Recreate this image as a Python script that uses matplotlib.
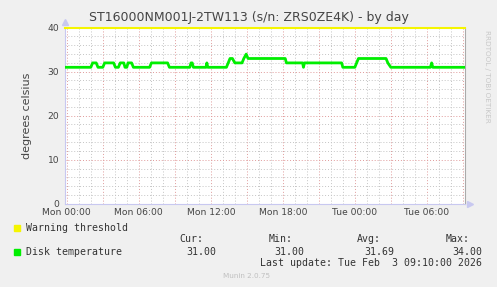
import matplotlib
matplotlib.use("Agg")
import matplotlib.pyplot as plt

# hours from Mon 00:00, disk temperature readings (vertices)
hours = [-0.15, 2.0, 2.15, 2.45, 2.6, 3.0, 3.15, 3.9, 4.05, 4.3, 4.45, 4.75, 4.85,
         5.0, 5.1, 5.4, 5.55, 6.9, 7.05, 8.4, 8.55, 10.25, 10.35, 10.45, 10.55,
         11.6, 11.67, 11.75, 13.3, 13.6, 13.8, 14.0, 14.6, 14.75, 14.95, 15.1,
         18.2, 18.3, 19.65, 19.72, 19.8, 22.9, 23.0, 24.0, 24.3, 26.6, 26.75,
         27.0, 30.3, 30.4, 30.5, 33.17]
temps = [31, 31, 32, 32, 31, 31, 32, 32, 31, 31, 32, 32, 31,
         31, 32, 32, 31, 31, 32, 32, 31, 31, 32, 32, 31,
         31, 32, 31, 31, 33, 33, 32, 32, 33, 34, 33,
         33, 32, 32, 31, 32, 32, 31, 31, 33, 33, 32,
         31, 31, 32, 31, 31]
warning = 40

tick_hours = [0, 6, 12, 18, 24, 30]
tick_labels = ['Mon 00:00', 'Mon 06:00', 'Mon 12:00', 'Mon 18:00', 'Tue 00:00', 'Tue 06:00']
ytick_vals = [0, 10, 20, 30, 40]

stats_hdr = ['Cur:', 'Min:', 'Avg:', 'Max:']
stats_val = ['31.00', '31.00', '31.69', '34.00']

W, H = 497, 287
fig = plt.figure(figsize=(W / 100, H / 100), dpi=100, facecolor='#f0f0f0')
ax = fig.add_axes([65 / W, 1 - 203.7 / H, 400 / W, 176 / H], facecolor='white')

xmin, xmax = -0.15, 33.18
ax.set_xlim(xmin, xmax)
ax.set_ylim(0, 40)

# grid: minor grey every hour / 2 degrees, major red every 3 hours / 10 degrees
for h in range(0, 34):
    col = '#e09a9a' if h % 3 == 0 else '#c4c4c4'
    ax.axvline(h, color=col, lw=0.7, ls=(0, (1, 2)), zorder=1)
for v in range(2, 40, 2):
    col = '#e09a9a' if v % 10 == 0 else '#c4c4c4'
    ax.axhline(v, color=col, lw=0.7, ls=(0, (1, 2)), zorder=1)

ax.axhline(warning, color='#f5f500', lw=1.5, zorder=3, clip_on=False)
ax.plot(hours, temps, color='#00ee00', lw=2, zorder=4)

ax.set_xticks(tick_hours)
ax.set_xticklabels(tick_labels)
ax.set_yticks(ytick_vals)
ax.tick_params(length=0, labelsize=6.6, colors='#444444')
ax.tick_params(axis='x', pad=3)
ax.tick_params(axis='y', pad=4)

ax.spines['top'].set_visible(False)
ax.spines['right'].set_color('#aaaaaa')
ax.spines['right'].set_linewidth(0.8)
for s in ['left', 'bottom']:
    ax.spines[s].set_color('#c8c8f0')
    ax.spines[s].set_linewidth(0.8)

# axis arrows
ax.plot([xmin], [41.3], marker='^', color='#c8c8f0', ms=4, clip_on=False)
ax.plot([xmax + 0.45], [0], marker='>', color='#c8c8f0', ms=4, clip_on=False)

ax.set_ylabel('degrees celsius', fontsize=8, color='#444444', labelpad=11)

fig.text(0.5, 1 - 18 / H, 'ST16000NM001J-2TW113 (s/n: ZRS0ZE4K) - by day',
         ha='center', va='center', fontsize=9, color='#444444')
fig.text(487 / W, 1 - 30 / H, 'RRDTOOL / TOBI OETIKER', rotation=270,
         ha='center', va='top', fontsize=5.2, color='#c8c8c8')

# legend
mono = 'DejaVu Sans Mono'
fs = 7.1
fig.patches.append(plt.Rectangle((14 / W, 1 - 230.5 / H), 5.5 / W, 5.5 / H,
                                 color='#f5f500', transform=fig.transFigure))
fig.text(26 / W, 1 - 227.7 / H, 'Warning threshold', family=mono, fontsize=fs,
         va='center', color='#333333')
hdr_right = [203.3, 292.7, 381, 470]
val_right = [216, 304.7, 394, 482.3]
for t, x in zip(stats_hdr, hdr_right):
    fig.text(x / W, 1 - 239.3 / H, t, family=mono, fontsize=fs, ha='right',
             va='center', color='#333333')
fig.patches.append(plt.Rectangle((14 / W, 1 - 254.5 / H), 5.5 / W, 5.5 / H,
                                 color='#00ee00', transform=fig.transFigure))
fig.text(26 / W, 1 - 251.7 / H, 'Disk temperature', family=mono, fontsize=fs,
         va='center', color='#333333')
for t, x in zip(stats_val, val_right):
    fig.text(x / W, 1 - 251.7 / H, t, family=mono, fontsize=fs, ha='right',
             va='center', color='#333333')
fig.text(482.3 / W, 1 - 263.3 / H, 'Last update: Tue Feb  3 09:10:00 2026',
         family=mono, fontsize=fs, ha='right', va='center', color='#333333')
fig.text(247 / W, 1 - 276 / H, 'Munin 2.0.75', fontsize=5.2, ha='center',
         va='center', color='#c0c0c0')

fig.savefig('out.png', dpi=100, facecolor=fig.get_facecolor())
